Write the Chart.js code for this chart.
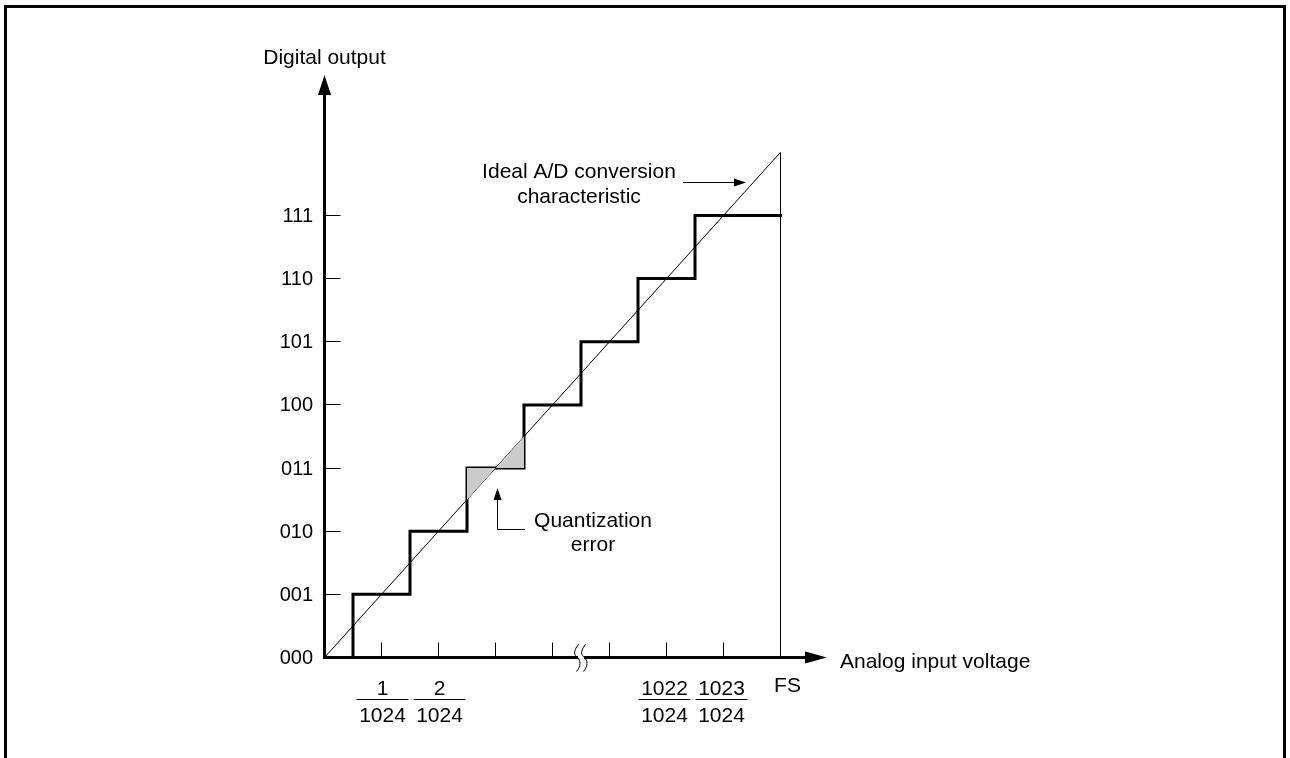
<!DOCTYPE html>
<html>
<head>
<meta charset="utf-8">
<script src="https://cdn.jsdelivr.net/npm/chart.js@4"></script>
<style>
  html, body { margin: 0; padding: 0; background: #fff; }
  #chart { display: block; }
</style>
</head>
<body>
<canvas id="chart" width="1290" height="758"></canvas>
<script>
// Output codes and A/D transfer data (units: 1 LSB = FS/1024, drawn with an axis break)
const codeLabels = ['000', '001', '010', '011', '100', '101', '110', '111'];
const codeLevels = [0, 1, 2, 3, 4, 5, 6, 7];
const riserX = [0.5, 1.5, 2.5, 3.5, 4.5, 5.5, 6.5];
const fullScaleX = 8;
const tickX = [1, 2, 3, 4, 5, 6, 7];
const breakX = 4.5;
const fracX = [1, 2, 6, 7];
const fracNum = ['1', '2', '1022', '1023'];
const fracDen = '1024';
const idealX = [0, 8];
const idealY = [0, 8];
const qeX = [2.5, 3.5];
const qeDiagY = [2.5, 3.5];
const qeLevelY = [3, 3];

const FONT = '"Liberation Sans", Arial, sans-serif';

// staircase from risers and codes
const stairPts = [];
riserX.forEach((x, i) => {
    stairPts.push({ x: x, y: codeLevels[i] });
    stairPts.push({ x: x, y: codeLevels[i + 1] });
});
stairPts.push({ x: fullScaleX, y: codeLevels[codeLevels.length - 1] });

const idealPts = idealX.map((x, i) => ({ x: x, y: idealY[i] }));
const fsPts = [{ x: fullScaleX, y: 0 }, { x: fullScaleX, y: idealY[1] }];
const qeDiagPts = qeX.map((x, i) => ({ x: x, y: qeDiagY[i] }));
const qeLevelPts = qeX.map((x, i) => ({ x: x, y: qeLevelY[i] }));

function arrowHead(ctx, x, y, dir, len, half) {
    ctx.beginPath();
    if (dir === 'up') { ctx.moveTo(x, y); ctx.lineTo(x - half, y + len); ctx.lineTo(x + half, y + len); }
    if (dir === 'right') { ctx.moveTo(x, y); ctx.lineTo(x - len, y - half); ctx.lineTo(x - len, y + half); }
    ctx.closePath();
    ctx.fill();
}

const diagramPlugin = {
    id: 'diagram',
    afterDatasetsDraw(chart) {
        const ctx = chart.ctx;
        const xs = chart.scales.x, ys = chart.scales.y;
        const x0 = xs.getPixelForValue(0), y0 = ys.getPixelForValue(0);
        ctx.save();
        ctx.strokeStyle = '#000';
        ctx.fillStyle = '#000';

        // frame
        ctx.lineWidth = 3;
        ctx.beginPath();
        ctx.moveTo(5.5, 758); ctx.lineTo(5.5, 6.5); ctx.lineTo(1284.5, 6.5); ctx.lineTo(1284.5, 758);
        ctx.stroke();

        // small ticks
        ctx.lineWidth = 1;
        codeLevels.slice(1).forEach(v => {
            const y = Math.floor(ys.getPixelForValue(v)) + 0.5;
            ctx.beginPath(); ctx.moveTo(x0, y); ctx.lineTo(x0 + 16, y); ctx.stroke();
        });
        tickX.forEach(v => {
            const x = Math.floor(xs.getPixelForValue(v)) + 0.5;
            ctx.beginPath(); ctx.moveTo(x, y0); ctx.lineTo(x, y0 - 15); ctx.stroke();
        });

        // axes
        ctx.lineWidth = 3;
        ctx.beginPath();
        ctx.moveTo(x0, y0 + 1.5); ctx.lineTo(x0, 92);
        ctx.moveTo(x0 - 1.5, y0); ctx.lineTo(808, y0);
        ctx.stroke();
        arrowHead(ctx, x0, 75, 'up', 20, 6.5);
        arrowHead(ctx, 827, y0, 'right', 22, 6);

        // axis break
        const bx = xs.getPixelForValue(breakX);
        ctx.fillStyle = '#fff';
        ctx.fillRect(bx - 3, y0 - 3, 6, 6);
        ctx.fillStyle = '#000';
        ctx.lineWidth = 1;
        [bx - 3.5, bx + 3.5].forEach(cx => {
            ctx.beginPath();
            ctx.moveTo(cx + 1, y0 - 13);
            ctx.bezierCurveTo(cx - 5, y0 - 6, cx - 3, y0 - 2, cx, y0);
            ctx.bezierCurveTo(cx + 3, y0 + 3, cx + 4, y0 + 8, cx - 1, y0 + 14);
            ctx.stroke();
        });

        // y labels
        ctx.font = '20px ' + FONT;
        ctx.textAlign = 'right';
        ctx.textBaseline = 'middle';
        codeLabels.forEach((t, i) => {
            ctx.fillText(t, 313, ys.getPixelForValue(codeLevels[i]) + 1);
        });

        // x fraction labels
        ctx.textAlign = 'center';
        ctx.textBaseline = 'alphabetic';
        ctx.font = '21px ' + FONT;
        fracX.forEach((v, i) => {
            const cx = xs.getPixelForValue(v) + (v > breakX ? -2 : 1);
            ctx.fillText(fracNum[i], cx, 695);
            ctx.fillText(fracDen, cx, 722);
            ctx.lineWidth = 1;
            ctx.beginPath(); ctx.moveTo(cx - 26, 699.5); ctx.lineTo(cx + 26, 699.5); ctx.stroke();
        });
        ctx.fillText('FS', xs.getPixelForValue(fullScaleX) + 7, 692);

        // axis titles
        ctx.fillText('Digital output', x0, 64);
        ctx.textAlign = 'left';
        ctx.fillText('Analog input voltage', 840, 668);

        // ideal characteristic note
        ctx.textAlign = 'center';
        ctx.fillText('Ideal A/D conversion', 579, 178);
        ctx.fillText('characteristic', 579, 203);
        ctx.lineWidth = 1;
        ctx.beginPath(); ctx.moveTo(683, 182.5); ctx.lineTo(735, 182.5); ctx.stroke();
        arrowHead(ctx, 746, 182.5, 'right', 12, 4);

        // quantization error note
        ctx.fillText('Quantization', 593, 527);
        ctx.fillText('error', 593, 551);
        ctx.beginPath(); ctx.moveTo(525, 529.5); ctx.lineTo(497.5, 529.5); ctx.lineTo(497.5, 498); ctx.stroke();
        arrowHead(ctx, 497.5, 488, 'up', 12, 4);

        ctx.restore();
    }
};

new Chart(document.getElementById('chart'), {
    type: 'line',
    data: {
        datasets: [
            { data: qeDiagPts, borderWidth: 0, backgroundColor: '#cbcbcb', fill: 1, pointRadius: 0, clip: false },
            { data: qeLevelPts, borderWidth: 0, fill: false, pointRadius: 0, clip: false },
            { data: idealPts, borderColor: '#000', borderWidth: 1, fill: false, pointRadius: 0, clip: false },
            { data: fsPts, borderColor: '#000', borderWidth: 1, fill: false, pointRadius: 0, clip: false },
            { data: stairPts, borderColor: '#000', borderWidth: 3, fill: false, pointRadius: 0, clip: false,
              borderJoinStyle: 'miter', borderCapStyle: 'square' }
        ]
    },
    options: {
        responsive: false,
        animation: false,
        layout: { padding: { left: 324.5, right: 452.5, top: 89.15, bottom: 100.5 } },
        scales: {
            x: { type: 'linear', min: 0, max: 9, display: false },
            y: { type: 'linear', min: 0, max: 9, display: false }
        },
        plugins: { legend: { display: false }, tooltip: { enabled: false } }
    },
    plugins: [diagramPlugin]
});
</script>
</body>
</html>
